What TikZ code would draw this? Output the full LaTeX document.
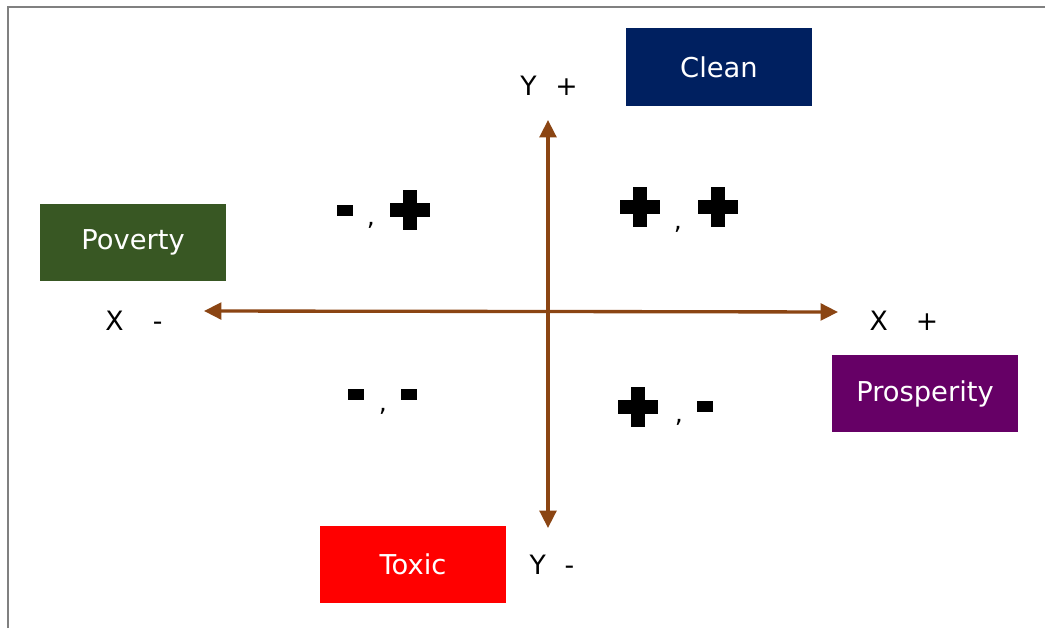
\documentclass[tikz,border=0pt]{standalone}
\usepackage{fontspec}
\setmainfont{DejaVu Sans}
\usetikzlibrary{arrows.meta}
\definecolor{axisbrown}{HTML}{8B4513}
\definecolor{cleanblue}{HTML}{002060}
\definecolor{povertygreen}{HTML}{385723}
\definecolor{prosperpurple}{HTML}{660066}
\definecolor{toxicred}{HTML}{FF0000}
\definecolor{framegray}{HTML}{808080}
\tikzset{
  x=0.75pt, y=-0.75pt,
  labelbox/.style={draw=none, fill=#1, text=white, minimum width=139.5pt,
    minimum height=58pt, inner sep=0pt, font=\fontsize{20.5}{24}\selectfont},
  axislabel/.style={inner sep=0pt, font=\fontsize{20}{24}\selectfont},
  axisline/.style={draw=axisbrown, line width=2.5pt,
    -{Triangle[length=13pt,width=12.5pt]}},
  sepcomma/.style={inner sep=0pt, font=\fontsize{19}{22}\selectfont},
  bigplus/.pic={\fill (-20,-7) rectangle (20,7); \fill (-7,-20) rectangle (7,20);},
  bigminus/.pic={\fill (-8,-5.5) rectangle (8,5.5);},
}
\begin{document}
\begin{tikzpicture}
\useasboundingbox (0,0) rectangle (1045,628);
\fill[white] (0,0) rectangle (1045,628);
% frame
\draw[framegray, line width=1.5pt] (8,628) -- (8,7) -- (1045,7);

% axes
\coordinate (O) at (548,311.5);
\coordinate (xneg) at (204,311);
\coordinate (xpos) at (838,312);
\coordinate (ypos) at (548,120);
\coordinate (yneg) at (548,528);
\draw[axisline] (O) -- (xneg);
\draw[axisline] (O) -- (xpos);
\draw[axisline] (O) -- (ypos);
\draw[axisline] (O) -- (yneg);

% axis labels
\node[axislabel] (lyp) at (549,86) {Y\hspace{0.7em}+};
\node[axislabel] (lxn) at (134,321) {X\hspace{1.1em}-};
\node[axislabel] (lxp) at (904,321) {X\hspace{1.05em}+};
\node[axislabel] (lyn) at (552,565) {Y\hspace{0.7em}-};

% pole boxes
\node[labelbox=cleanblue] (clean) at (719,67) {Clean};
\node[labelbox=povertygreen] (poverty) at (133,242.5) {Poverty};
\node[labelbox=prosperpurple] (prosperity) at (925,393.5) {Prosperity};
\node[labelbox=toxicred] (toxic) at (413,564.5) {Toxic};

% quadrant signs
\pic at (345,210) {bigminus};
\node[sepcomma] (c1) at (371,225) {,};
\pic at (410,210) {bigplus};

\pic at (639.5,207) {bigplus};
\node[sepcomma] (c2) at (678,229) {,};
\pic at (718,207) {bigplus};

\pic at (356,394.5) {bigminus};
\node[sepcomma] (c3) at (383,411) {,};
\pic at (408.5,394.5) {bigminus};

\pic at (638,406.5) {bigplus};
\node[sepcomma] (c4) at (679,422) {,};
\pic at (705,406.5) {bigminus};
\end{tikzpicture}
\end{document}
